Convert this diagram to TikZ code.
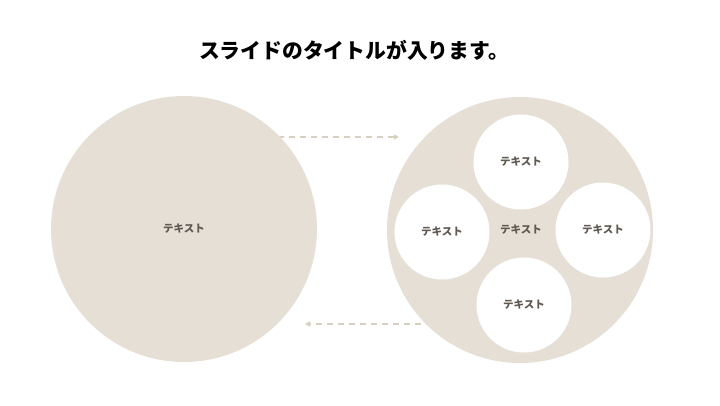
\documentclass[tikz,border=0pt]{standalone}
\usepackage{fontspec}
\setmainfont{Noto Sans CJK JP}
\usetikzlibrary{arrows.meta}
\definecolor{beige}{HTML}{E6DFD6}
\definecolor{arrowc}{HTML}{D6D0C3}
\definecolor{txt}{HTML}{5F5951}
\tikzset{
  bigc/.style={circle, fill=beige, minimum size=266bp, inner sep=0pt},
  smallc/.style={circle, fill=white, minimum size=95bp, inner sep=0pt},
  lbl/.style={text=txt, font=\fontsize{10.5bp}{12bp}\selectfont\bfseries},
  flow/.style={draw=arrowc, line width=1.4bp, dash pattern=on 6bp off 5bp, -{Triangle[length=5bp,width=5bp]}},
}
\begin{document}
\begin{tikzpicture}[x=1bp,y=-1bp]
\useasboundingbox (0,0) rectangle (720,405);
\node[font=\fontsize{20.8bp}{24bp}\selectfont\bfseries] (title) at (354,50) {スライドのタイトルが入ります。};
\coordinate (a1s) at (278,137);
\coordinate (a1e) at (399,137);
\coordinate (a2s) at (432,324);
\coordinate (a2e) at (305,324);
\draw[flow] (a1s) -- (a1e);
\draw[flow] (a2s) -- (a2e);
\node[bigc] (left) at (184,229) {};
\node[lbl] (ltxt) at (184,229) {テキスト};
\node[bigc] (right) at (520,230) {};
\node[smallc] (top) at (521,162) {};
\node[smallc] (lc) at (442,232) {};
\node[smallc] (rc) at (603,230) {};
\node[smallc] (bc) at (524,305) {};
\node[lbl] at (top) {テキスト};
\node[lbl] at (lc) {テキスト};
\node[lbl] at (rc) {テキスト};
\node[lbl] at (bc) {テキスト};
\node[lbl] (ctxt) at (521,230) {テキスト};
\end{tikzpicture}
\end{document}
